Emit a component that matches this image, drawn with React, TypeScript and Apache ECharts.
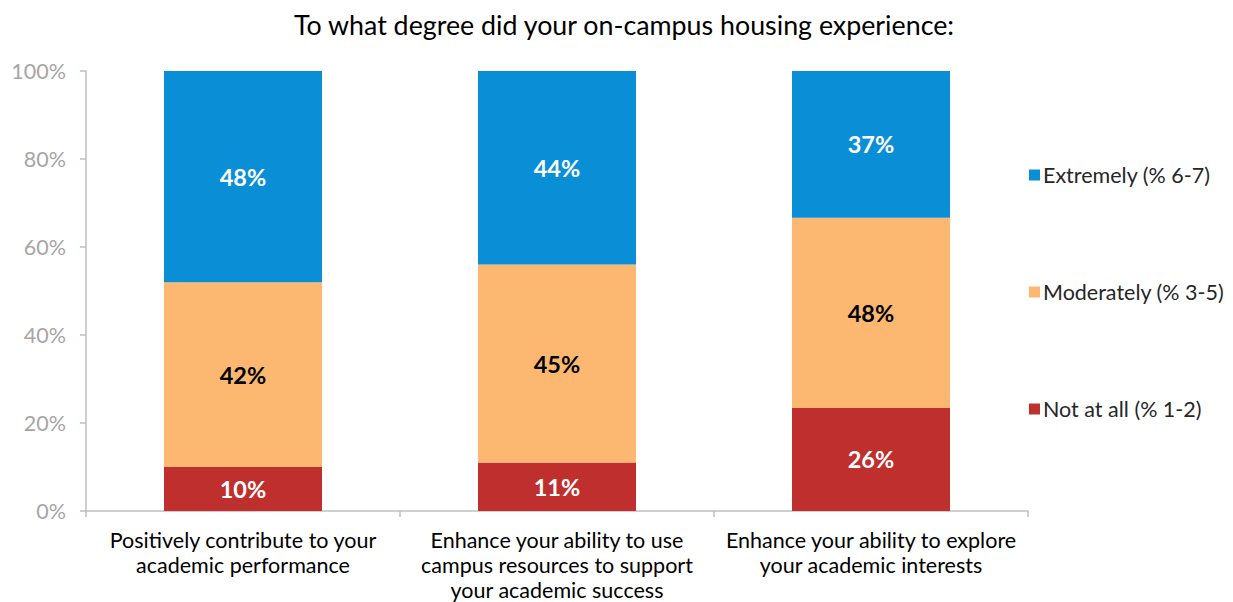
import React, { useEffect, useRef } from "react";
import * as echarts from "echarts";

const categories = [
  "Positively contribute to your\nacademic performance",
  "Enhance your ability to use\ncampus resources to support\nyour academic success",
  "Enhance your ability to explore\nyour academic interests",
];
const notAtAll = [10, 11, 26];
const moderately = [42, 45, 48];
const extremely = [48, 44, 37];
const yTicks = [0, 20, 40, 60, 80, 100];

const FONT = "Lato, 'Noto Sans', sans-serif";

export default function App() {
  const ref = useRef<HTMLDivElement>(null);
  useEffect(() => {
    if (!ref.current) return;
    const chart = echarts.init(ref.current, null, { renderer: "svg" });
    const totals = categories.map((_, i) => notAtAll[i] + moderately[i] + extremely[i]);
    const norm = (arr: number[]) => arr.map((v, i) => ({ value: (v / totals[i]) * 100, raw: v }));
    const mk = (name: string, arr: number[], color: string, labelColor: string) => ({
      name,
      type: "bar",
      stack: "s",
      barWidth: 158,
      data: norm(arr),
      itemStyle: { color },
      label: {
        show: true,
        position: "inside",
        color: labelColor,
        fontFamily: FONT,
        fontWeight: "bold",
        fontSize: 23.5,
        formatter: (p: any) => p.data.raw + "%",
      },
    });
    chart.setOption({
      animation: false,
      textStyle: { fontFamily: FONT },
      title: {
        text: "To what degree did your on-campus housing experience:",
        left: 619,
        textAlign: "center",
        top: 6,
        textStyle: { fontFamily: FONT, fontSize: 26.8, fontWeight: "normal", color: "#000" },
      },
      legend: {
        orient: "vertical",
        left: 1024,
        top: 159,
        itemGap: 95,
        itemWidth: 11,
        itemHeight: 11,
        icon: "rect",
        textStyle: { fontFamily: FONT, fontSize: 21.5, color: "#262626", padding: [0, 0, 0, -2] },
        data: ["Extremely (% 6-7)", "Moderately (% 3-5)", "Not at all (% 1-2)"],
      },
      grid: { left: 86, right: 205, top: 71, bottom: 90 },
      xAxis: {
        type: "category",
        data: categories,
        axisLine: { lineStyle: { color: "#bfbfbf", width: 1.5 } },
        axisTick: { show: true, length: 6, lineStyle: { color: "#bfbfbf", width: 1.5 } },
        axisLabel: {
          interval: 0,
          color: "#000",
          fontSize: 21.5,
          fontFamily: FONT,
          lineHeight: 25,
          margin: 16,
        },
      },
      yAxis: {
        type: "value",
        min: 0,
        max: 100,
        interval: 20,
        axisLine: { show: true, lineStyle: { color: "#bfbfbf", width: 1.5 } },
        axisTick: { show: true, length: 6, lineStyle: { color: "#bfbfbf", width: 1.5 } },
        splitLine: { show: false },
        axisLabel: {
          color: "#a6a6a6",
          fontSize: 21.5,
          fontFamily: FONT,
          margin: 20,
          formatter: (v: number) => (yTicks.includes(v) ? v + "%" : ""),
        },
      },
      series: [
        mk("Not at all (% 1-2)", notAtAll, "#be2f2e", "#fff"),
        mk("Moderately (% 3-5)", moderately, "#fcb871", "#000"),
        mk("Extremely (% 6-7)", extremely, "#0a8fd6", "#fff"),
      ],
    });
    return () => chart.dispose();
  }, []);
  return (
    <div
      ref={ref}
      style={{ position: "fixed", left: 0, top: 0, width: 1233, height: 602, background: "#fff" }}
    />
  );
}
